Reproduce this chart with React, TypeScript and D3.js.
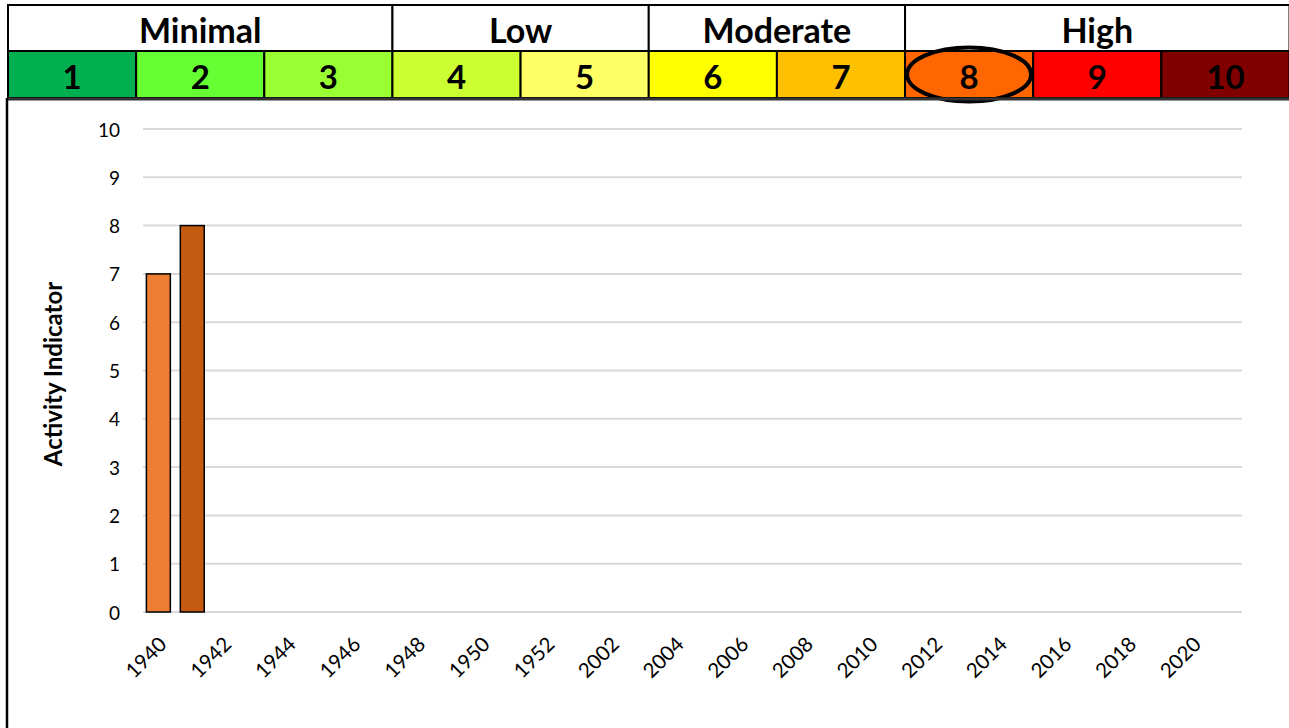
import React from "react";
import * as d3 from "d3";

const levels = ["1", "2", "3", "4", "5", "6", "7", "8", "9", "10"];
const levelColors = ["#00B050", "#66FF33", "#99FF33", "#CCFF33", "#FFFF66", "#FFFF00", "#FFC000", "#FF6600", "#FF0000", "#800000"];
const groups = [
  { label: "Minimal", from: 0, to: 3 },
  { label: "Low", from: 3, to: 5 },
  { label: "Moderate", from: 5, to: 7 },
  { label: "High", from: 7, to: 10 },
];
const highlightedLevel = "8";

const categories = ["1940", "1942", "1944", "1946", "1948", "1950", "1952", "2002", "2004", "2006", "2008", "2010", "2012", "2014", "2016", "2018", "2020"];
const seriesNames = ["A", "B"];
const seriesA: (number | null)[] = [7, null, null, null, null, null, null, null, null, null, null, null, null, null, null, null, null];
const seriesB: (number | null)[] = [8, null, null, null, null, null, null, null, null, null, null, null, null, null, null, null, null];
const seriesColors = ["#ED7D31", "#C55A11"];
const yTicks = [0, 1, 2, 3, 4, 5, 6, 7, 8, 9, 10];
const yTitle = "Activity Indicator";

const W = 1289, H = 728;
const FONT = "Lato, 'Open Sans', 'DejaVu Sans', sans-serif";

export default function App() {
  const hx = d3.scaleLinear().domain([0, 10]).range([8, 1289.5]);
  const yTop = 5, yMid = 51, yBot = 98;

  const x = d3.scaleBand<string>().domain(categories).range([143, 1242]).padding(0);
  const xs = d3.scaleBand<string>().domain(seriesNames).range([0, x.bandwidth()]).paddingInner(0.294).paddingOuter(0.1);
  const y = d3.scaleLinear().domain([0, 10]).range([612, 129]);

  const series = [seriesA, seriesB];
  const hi = levels.indexOf(highlightedLevel);

  return (
    <svg width={W} height={H} style={{ position: "absolute", left: 0, top: 0, background: "#fff" }} fontFamily={FONT}>
      <rect x={0} y={0} width={W} height={H} fill="#fff" />
      {/* header groups */}
      {groups.map((g) => (
        <g key={g.label}>
          <rect x={hx(g.from)} y={yTop} width={hx(g.to) - hx(g.from)} height={yMid - yTop} fill="#fff" stroke="#000" strokeWidth={2} />
          <text x={(hx(g.from) + hx(g.to)) / 2} y={(yTop + yMid) / 2 + 1} textAnchor="middle" dominantBaseline="central" fontWeight="bold" fontSize={34} fill="#000">{g.label}</text>
        </g>
      ))}
      {levels.map((l, i) => (
        <g key={l}>
          <rect x={hx(i)} y={yMid} width={hx(i + 1) - hx(i)} height={yBot - yMid} fill={levelColors[i]} stroke="#000" strokeWidth={2} />
          <text x={(hx(i) + hx(i + 1)) / 2} y={(yMid + yBot) / 2 + 1} textAnchor="middle" dominantBaseline="central" fontWeight="bold" fontSize={33} fill="#000">{l}</text>
        </g>
      ))}
      <ellipse cx={(hx(hi) + hx(hi + 1)) / 2} cy={(yMid + yBot) / 2} rx={62} ry={27} fill="none" stroke="#000" strokeWidth={4} />
      {/* header bottom and chart frame */}
      <line x1={8} x2={W} y1={99} y2={99} stroke="#333" strokeWidth={3} />
      <line x1={7} x2={7} y1={98} y2={H} stroke="#000" strokeWidth={2.5} />

      {/* grid */}
      {yTicks.map((t) => (
        <g key={t}>
          <line x1={143} x2={1242} y1={y(t)} y2={y(t)} stroke="#D9D9D9" strokeWidth={2} />
          <text x={120} y={y(t)} textAnchor="end" dominantBaseline="central" fontSize={19} fill="#000">{t}</text>
        </g>
      ))}
      {/* bars */}
      {categories.map((c, ci) =>
        series.map((s, si) => {
          const v = s[ci];
          if (v == null) return null;
          return (
            <rect key={c + si} x={(x(c) as number) + (xs(seriesNames[si]) as number)} y={y(v)} width={xs.bandwidth()} height={y(0) - y(v)} fill={seriesColors[si]} stroke="#000" strokeWidth={1.5} />
          );
        })
      )}
      {/* x labels */}
      {categories.map((c) => {
        const cx = (x(c) as number) + x.bandwidth() / 2 - 13;
        const cy = 640;
        return (
          <text key={c} x={cx} y={cy} textAnchor="end" dominantBaseline="central" fontSize={20.5} fill="#000" transform={`rotate(-45 ${cx} ${cy})`}>{c}</text>
        );
      })}
      <text transform={`translate(52 374) rotate(-90)`} textAnchor="middle" dominantBaseline="central" fontWeight="bold" fontSize={24} fill="#000">{yTitle}</text>
    </svg>
  );
}
